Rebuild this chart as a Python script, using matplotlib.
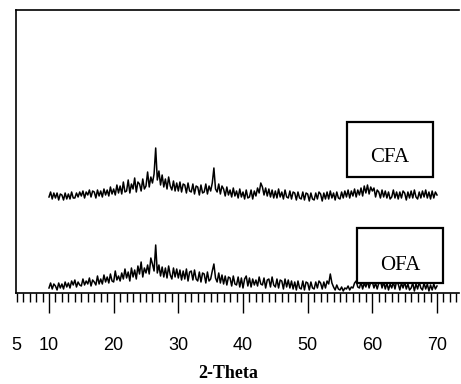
import numpy as np
import matplotlib
matplotlib.use("Agg")
import matplotlib.pyplot as plt
from matplotlib.patches import Rectangle

# XRD scan, 0.25 deg step, 10-70 deg 2-theta
two_theta = np.linspace(10, 70, 241)

# OFA intensity (arb. units)
ofa = [
    5, 10, 4, 9, 7, 3, 10, 5, 9, 4, 11, 6, 10, 5, 12, 8,
    13, 6, 11, 8, 7, 14, 8, 12, 9, 15, 7, 13, 11, 8, 17, 9,
    14, 9, 18, 11, 16, 10, 19, 12, 11, 22, 13, 17, 12, 20, 14, 24,
    15, 21, 12, 25, 16, 23, 14, 27, 19, 31, 16, 25, 20, 28, 19, 35,
    29, 22, 48, 20, 28, 17, 26, 16, 25, 15, 27, 18, 14, 25, 16, 24,
    15, 23, 13, 22, 14, 24, 12, 21, 22, 13, 23, 14, 12, 21, 11, 20,
    19, 10, 21, 12, 14, 22, 29, 15, 11, 20, 10, 18, 9, 17, 8, 16,
    15, 7, 17, 9, 8, 16, 6, 15, 5, 14, 17, 7, 15, 6, 14, 8,
    13, 7, 16, 9, 8, 15, 5, 13, 14, 6, 16, 8, 6, 14, 5, 13,
    12, 4, 14, 6, 13, 5, 12, 4, 11, 3, 12, 5, 4, 12, 3, 11,
    10, 3, 11, 5, 4, 11, 5, 12, 10, 4, 11, 5, 12, 9, 19, 10,
    6, 3, 8, 4, 3, 6, 2, 5, 4, 7, 3, 6, 5, 10, 12, 6,
    5, 11, 4, 10, 6, 12, 5, 11, 11, 5, 10, 4, 10, 13, 5, 11,
    4, 10, 3, 9, 5, 11, 4, 12, 9, 3, 10, 5, 11, 4, 9, 3,
    5, 10, 2, 9, 4, 11, 5, 3, 10, 4, 9, 2, 8, 3, 9, 4,
    7,
]

# CFA intensity (arb. units, same scan grid)
cfa = [
    6, 11, 4, 10, 5, 10, 3, 9, 8, 3, 10, 4, 9, 4, 11, 5,
    5, 10, 6, 11, 7, 12, 5, 11, 8, 13, 6, 12, 11, 5, 13, 7,
    12, 6, 14, 8, 13, 7, 16, 9, 14, 8, 18, 10, 17, 9, 21, 11,
    12, 23, 10, 19, 14, 25, 11, 21, 19, 12, 24, 14, 17, 31, 16, 26,
    20, 29, 55, 23, 32, 18, 28, 16, 24, 14, 26, 17, 13, 22, 12, 20,
    12, 21, 11, 19, 18, 10, 20, 12, 11, 19, 9, 17, 16, 8, 18, 10,
    11, 19, 9, 17, 12, 20, 35, 14, 11, 19, 9, 17, 14, 7, 16, 8,
    13, 6, 15, 7, 12, 5, 14, 6, 11, 4, 13, 5, 6, 13, 4, 12,
    7, 15, 10, 20, 16, 8, 15, 7, 14, 6, 13, 5, 12, 5, 14, 6,
    11, 4, 13, 6, 5, 12, 4, 11, 10, 3, 11, 5, 4, 11, 3, 10,
    9, 2, 10, 4, 3, 10, 4, 11, 9, 2, 10, 4, 11, 4, 12, 5,
    10, 3, 11, 5, 4, 11, 5, 12, 6, 13, 5, 12, 7, 14, 6, 13,
    8, 15, 7, 17, 10, 18, 9, 16, 12, 15, 6, 13, 11, 5, 13, 6,
    12, 5, 11, 4, 6, 13, 5, 11, 4, 11, 5, 12, 10, 3, 11, 5,
    12, 5, 13, 6, 4, 11, 5, 12, 6, 13, 5, 11, 4, 12, 5, 11,
    8,
]
CFA_OFFSET = 90

tick_vals = [5, 10, 20, 30, 40, 50, 60, 70]
tick_labels = ["5", "10", "20", "30", "40", "50", "60", "70"]

fig = plt.figure(figsize=(4.61, 3.84), dpi=100)
ax = fig.add_axes([16 / 461, 91 / 384, 443 / 461, 283 / 384])

ax.plot(two_theta, ofa, color="black", lw=1.1)
ax.plot(two_theta, np.array(cfa) + CFA_OFFSET, color="black", lw=1.1)

# sample labels in boxes
for x0, x1, y0, y1, name, ty in [(56.1, 69.4, 116, 171, "CFA", 136),
                                 (57.6, 70.9, 10, 65, "OFA", 28)]:
    ax.add_patch(Rectangle((x0, y0), x1 - x0, y1 - y0, facecolor="white",
                           edgecolor="black", lw=1.6, zorder=3))
    ax.text((x0 + x1) / 2, ty, name, ha="center", va="center", zorder=4,
            family="Liberation Serif", fontsize=15)

ax.set_xlim(4.9, 73.4)
ax.set_ylim(0, 283)
ax.set_xticks(tick_vals)
ax.set_xticklabels(tick_labels, family="Liberation Sans", fontsize=13)
ax.set_xticks(np.arange(5, 74, 1), minor=True)
ax.tick_params(axis="x", which="major", direction="out", length=14.4,
               width=1.0, pad=17)
ax.tick_params(axis="x", which="minor", direction="out", length=6.5, width=1.0)
ax.xaxis.get_major_ticks()[0].tick1line.set_markersize(6.5)
ax.set_yticks([])

ax.set_xlabel("2-Theta", family="Liberation Serif", fontweight="bold",
              fontsize=13)
ax.xaxis.set_label_coords(0.479, -0.255)

ax.spines["right"].set_visible(False)
for s in ["left", "top", "bottom"]:
    ax.spines[s].set_linewidth(1.2)

fig.savefig("out.png", dpi=100)
